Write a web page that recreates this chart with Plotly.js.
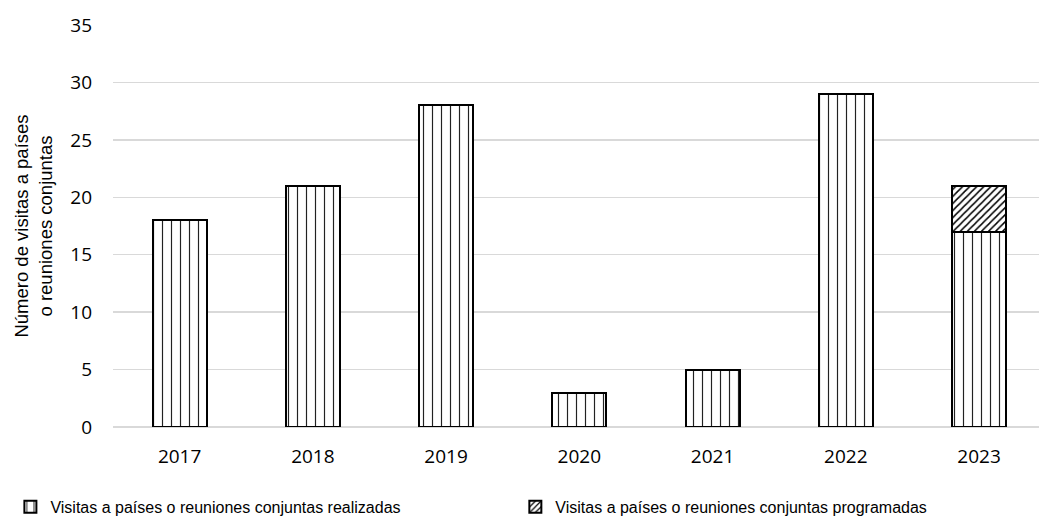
<!DOCTYPE html>
<html>
<head>
<meta charset="utf-8">
<script src="https://cdn.plot.ly/plotly-3.0.1.min.js"></script>
<style>html,body{margin:0;padding:0;background:#fff;}#chart{width:1039px;height:521px;}</style>
</head>
<body>
<div id="chart"></div>
<script>
const years = ['2017', '2018', '2019', '2020', '2021', '2022', '2023'];
const realizadas = [18, 21, 28, 3, 5, 29, 17];
const programadas = [0, 0, 0, 0, 0, 0, 4];
const seriesNames = ['Visitas a países o reuniones conjuntas realizadas', 'Visitas a países o reuniones conjuntas programadas'];
const yTitle = 'Número de visitas a países<br>o reuniones conjuntas';

const traces = [
  {
    type: 'bar', x: years, y: realizadas, name: seriesNames[0], width: 0.405, legend: 'legend',
    marker: {color: '#ffffff', line: {color: '#000000', width: 2},
      pattern: {shape: '|', fgcolor: '#222222', bgcolor: '#ffffff', size: 9, solidity: 0.13}}
  },
  {
    type: 'bar', x: years, y: programadas, name: seriesNames[1], width: 0.405, legend: 'legend2',
    marker: {color: '#ffffff', line: {color: '#000000', width: 2},
      pattern: {shape: '/', fgcolor: '#000000', bgcolor: '#ffffff', size: 5, solidity: 0.3}}
  }
];

const legendFont = {family: 'Liberation Sans, Arial, sans-serif', size: 16, color: '#000000'};

const layout = {
  width: 1039, height: 521,
  margin: {l: 113, r: 0, t: 25, b: 94},
  barmode: 'stack',
  paper_bgcolor: '#ffffff', plot_bgcolor: '#ffffff',
  showlegend: true,
  xaxis: {
    type: 'category', range: [-0.5, 6.45], showgrid: false, zeroline: false,
    showline: false, ticks: '', ticklabelstandoff: 16,
    tickfont: {family: 'Open Sans, sans-serif', size: 19, color: '#000000'}
  },
  yaxis: {
    range: [0, 35], dtick: 5, tick0: 0, showgrid: true, gridcolor: '#d9d9d9', gridwidth: 1.5,
    zeroline: true, zerolinecolor: '#d9d9d9', zerolinewidth: 1.5, showline: false, ticks: '',
    ticklabelstandoff: 20,
    tickfont: {family: 'Open Sans, sans-serif', size: 19, color: '#000000'},
    title: {text: yTitle, font: {family: 'Liberation Sans, Arial, sans-serif', size: 18.5, color: '#000000'}, standoff: 12}
  },
  legend: {
    orientation: 'h', xref: 'container', yref: 'container', x: 0.01, y: 0.027,
    xanchor: 'left', yanchor: 'middle', itemwidth: 30, font: legendFont
  },
  legend2: {
    orientation: 'h', xref: 'container', yref: 'container', x: 0.496, y: 0.027,
    xanchor: 'left', yanchor: 'middle', itemwidth: 30, font: legendFont
  }
};

Plotly.newPlot('chart', traces, layout, {displayModeBar: false, staticPlot: true});
</script>
</body>
</html>
